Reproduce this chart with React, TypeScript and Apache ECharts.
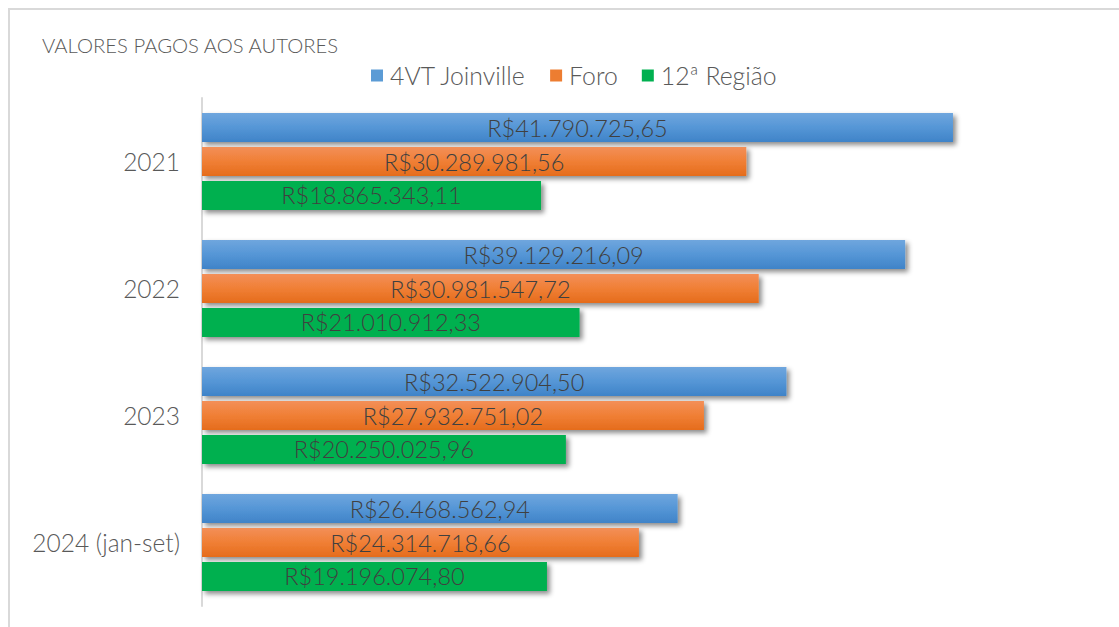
import React, { useEffect, useRef } from "react";
import * as echarts from "echarts";

const categories = ["2021", "2022", "2023", "2024 (jan-set)"];
const seriesNames = ["4VT Joinville", "Foro", "12ª Região"];
const joinville = [41790725.65, 39129216.09, 32522904.5, 26468562.94];
const foro = [30289981.56, 30981547.72, 27932751.02, 24314718.66];
const regiao = [18865343.11, 21010912.33, 20250025.96, 19196074.8];

const fmt = (v: number) => {
  const [i, d] = v.toFixed(2).split(".");
  return "R$" + i.replace(/\B(?=(\d{3})+(?!\d))/g, ".") + "," + d;
};

const FONT = "Lato, 'Open Sans', sans-serif";

const grad = (c1: string, c2: string, c3: string) =>
  new echarts.graphic.LinearGradient(0, 0, 0, 1, [
    { offset: 0, color: c1 },
    { offset: 0.5, color: c2 },
    { offset: 1, color: c3 },
  ]);

export default function App() {
  const ref = useRef<HTMLDivElement>(null);
  useEffect(() => {
    if (!ref.current) return;
    const chart = echarts.init(ref.current, undefined, { renderer: "svg" });
    const mk = (name: string, data: number[], color: any) => ({
      name,
      type: "bar",
      data,
      barWidth: 29,
      barGap: "17%",
      itemStyle: {
        color,
        shadowColor: "rgba(0,0,0,0.45)",
        shadowBlur: 5,
        shadowOffsetX: 3,
        shadowOffsetY: 3,
      },
      label: {
        show: true,
        position: "inside",
        formatter: (p: any) => fmt(p.value),
        color: "#404040",
        fontSize: 23.5,
        fontWeight: 300,
        fontFamily: FONT,
      },
    });
    chart.setOption({
      animation: false,
      backgroundColor: "#ffffff",
      title: {
        text: "VALORES PAGOS AOS AUTORES",
        left: 37,
        top: 30,
        textStyle: { color: "#595959", fontSize: 20.3, fontWeight: 300, fontFamily: FONT },
      },
      legend: {
        data: seriesNames.map((n, i) => ({
          name: n,
          itemStyle: { color: ["#5b9bd5", "#ed7d31", "#00b050"][i] },
        })),
        left: 366,
        top: 58,
        icon: "rect",
        itemWidth: 12,
        itemHeight: 12,
        itemGap: 24,
        textStyle: { color: "#595959", fontSize: 24.8, fontWeight: 300, fontFamily: FONT, padding: [0, 0, 0, 2] },
      },
      graphic: [
        {
          type: "rect",
          shape: { x: 9, y: 9, width: 1200, height: 700 },
          style: { fill: "none", stroke: "#d9d9d9", lineWidth: 2 },
          silent: true,
        },
      ],
      grid: { left: 202, right: 18.5, top: 98, bottom: 21 },
      xAxis: {
        type: "value",
        min: 0,
        max: 50000000,
        show: false,
        splitLine: { show: false },
      },
      yAxis: {
        type: "category",
        data: categories,
        inverse: true,
        axisLine: { show: true, lineStyle: { color: "#d9d9d9", width: 2 } },
        axisTick: { show: false },
        axisLabel: { color: "#595959", fontSize: 24.5, fontWeight: 300, fontFamily: FONT, margin: 22 },
      },
      series: [
        mk(seriesNames[0], joinville, grad("#6fa6de", "#5596d6", "#3f83c8")),
        mk(seriesNames[1], foro, grad("#f38f58", "#f07f35", "#e56c1c")),
        mk(seriesNames[2], regiao, "#00b050"),
      ],
    });
    return () => chart.dispose();
  }, []);
  return (
    <div
      ref={ref}
      style={{ position: "fixed", left: 0, top: 0, width: 1119, height: 627 }}
    />
  );
}
